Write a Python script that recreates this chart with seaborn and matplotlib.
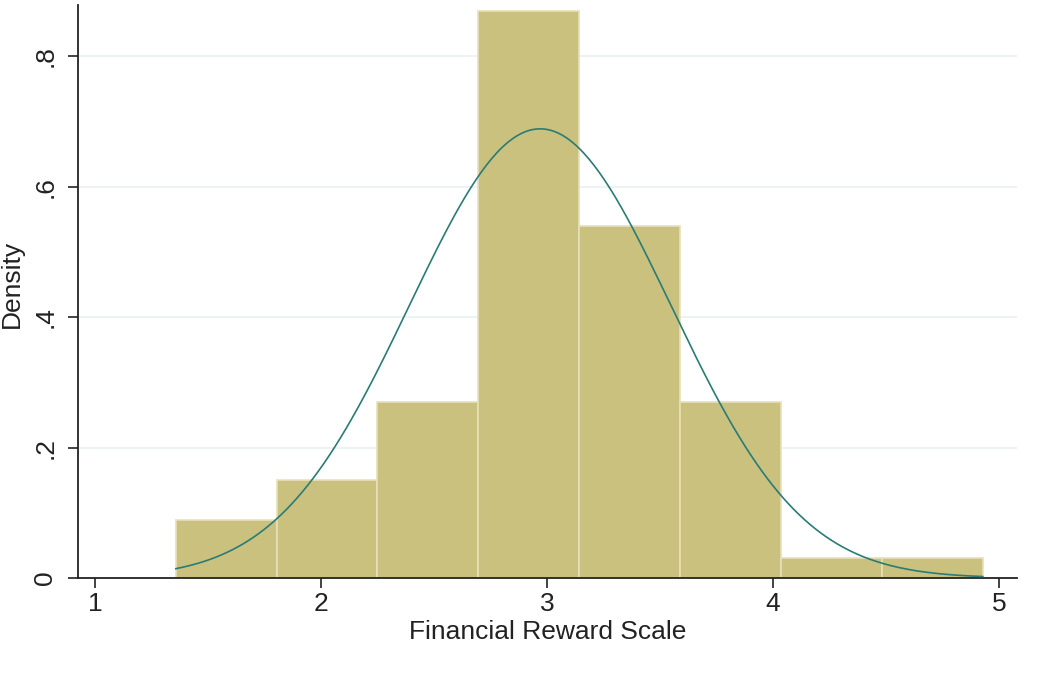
import numpy as np
import pandas as pd
import matplotlib
matplotlib.use("Agg")
import matplotlib.pyplot as plt
import seaborn as sns

# Histogram bin edges (Financial Reward Scale) and density heights
bin_edges = [1.357, 1.804, 2.250, 2.697, 3.143, 3.590, 4.036, 4.483, 4.929]
densities = [0.089, 0.150, 0.270, 0.870, 0.540, 0.270, 0.031, 0.031]

# Fitted normal curve parameters
normal_mean = 2.97
normal_sd = 0.579

x_ticks = [1, 2, 3, 4, 5]
x_tick_labels = ["1", "2", "3", "4", "5"]
y_ticks = [0, 0.2, 0.4, 0.6, 0.8]
y_tick_labels = ["0", ".2", ".4", ".6", ".8"]

sns.set_style("white")
plt.rcParams["font.family"] = ["Liberation Sans", "DejaVu Sans"]

fig = plt.figure(figsize=(10.45, 6.77), dpi=100)
ax = fig.add_axes([78 / 1045, 1 - 578 / 677, 939 / 1045, 573 / 677])

centers = [(bin_edges[i] + bin_edges[i + 1]) / 2 for i in range(len(densities))]
df = pd.DataFrame({"x": centers, "w": densities})
sns.histplot(data=df, x="x", weights="w", bins=bin_edges, stat="count",
             color="#CAC17E", alpha=1.0, edgecolor="#E6E0B8", linewidth=1.2,
             ax=ax, zorder=2)

xs = np.linspace(bin_edges[0], bin_edges[-1], 300)
ys = np.exp(-0.5 * ((xs - normal_mean) / normal_sd) ** 2) / (normal_sd * np.sqrt(2 * np.pi))
sns.lineplot(x=xs, y=ys, color="#2A7C76", linewidth=1.2, ax=ax, zorder=3)

ax.set_xlim(0.925, 5.080)
ax.set_ylim(0, 0.879)

ax.set_xticks(x_ticks)
ax.set_xticklabels(x_tick_labels, fontsize=19)
ax.set_yticks(y_ticks)
ax.set_yticklabels(y_tick_labels, fontsize=19, rotation=90, va="center")

for y in y_ticks[1:]:
    ax.axhline(y, color="#EAF0F2", linewidth=1.2, zorder=0)

ax.tick_params(axis="both", which="both", direction="out", length=7,
               width=1.2, color="#222222", labelcolor="#222222",
               bottom=True, left=True)
ax.tick_params(axis="x", pad=3)
ax.tick_params(axis="y", pad=8)

for s in ["top", "right"]:
    ax.spines[s].set_visible(False)
for s in ["left", "bottom"]:
    ax.spines[s].set_color("#222222")
    ax.spines[s].set_linewidth(1.3)

ax.set_xlabel("Financial Reward Scale", fontsize=19, color="#222222", labelpad=3)
ax.set_ylabel("Density", fontsize=19, color="#222222", labelpad=0)
ax.yaxis.set_label_coords(-54 / 939, 0.514)

fig.savefig("out.png", dpi=100, facecolor="white")
